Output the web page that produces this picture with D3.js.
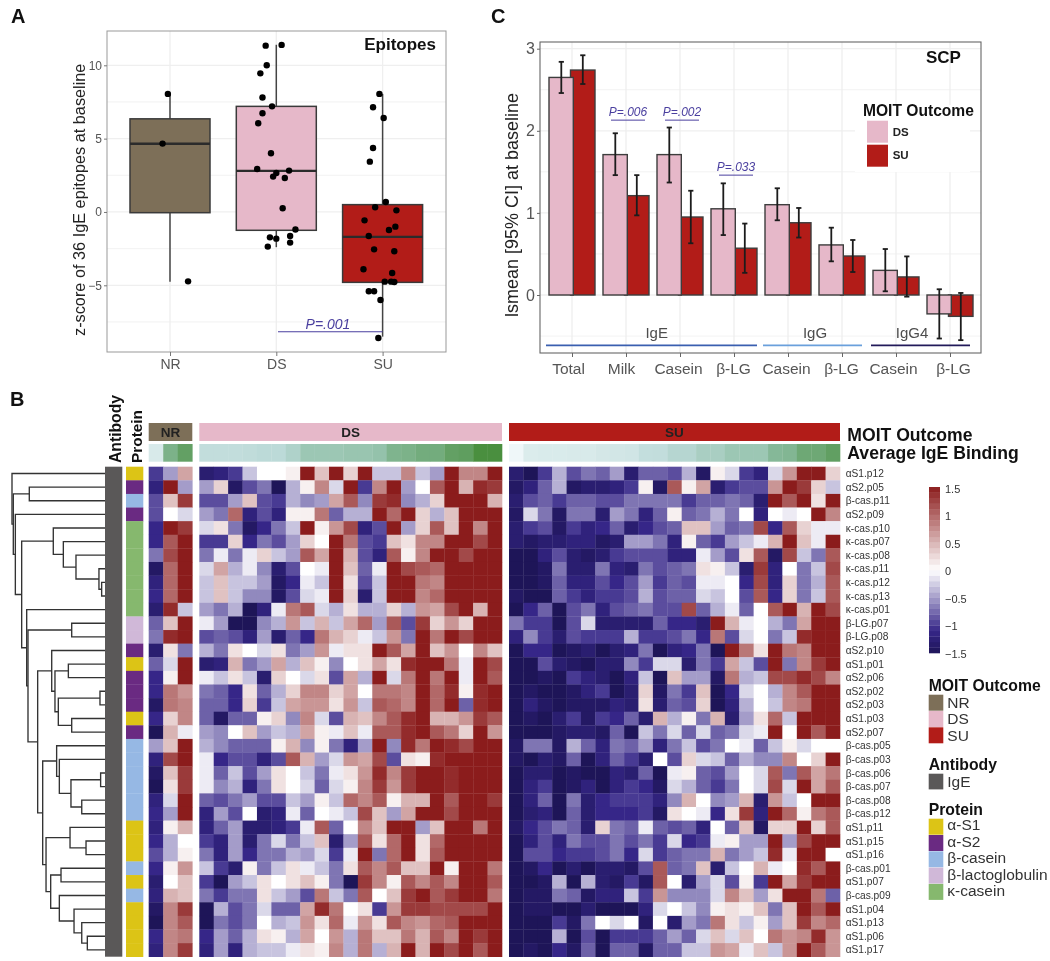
<!DOCTYPE html>
<html><head><meta charset="utf-8">
<script src="https://d3js.org/d3.v7.min.js"></script>
<style>
html,body{margin:0;padding:0;background:#fff}
svg{display:block;filter:blur(.35px)}
text{font-family:"Liberation Sans",Arial,sans-serif}
</style></head><body>
<svg id="chart" width="1050" height="961"></svg>
<script>
// ---------- Panel A ----------
const boxCategories = ["NR","DS","SU"];
const boxQ1 = [-0.05,-1.25,-4.8];
const boxMedian = [4.65,2.8,-1.7];
const boxQ3 = [6.35,7.2,0.5];
const boxLow = [-4.75,-2.4,-8.5];
const boxHigh = [8.05,11.4,8.05];
const nrPoints = [[-.02,8.05],[-.07,4.66],[.17,-4.73]];
const dsPoints = [[-.10,11.34],[.05,11.39],[-.09,10],[-.15,9.45],[-.13,7.8],[-.04,7.2],[-.13,6.73],[-.17,6.05],[-.05,4],[-.18,2.93],[.12,2.82],[0,2.66],[-.03,2.41],[.08,2.32],[.06,.25],[.18,-1.2],[-.06,-1.73],[0,-1.82],[.13,-1.64],[.13,-2.09],[-.08,-2.36]];
const suPoints = [[-.03,8.05],[-.09,7.14],[.01,6.41],[-.09,4.36],[-.12,3.43],[.03,.68],[-.07,.32],[.13,.11],[-.17,-.57],[.12,-1],[.06,-1.23],[-.13,-1.64],[-.08,-2.55],[.11,-2.68],[-.18,-3.91],[.09,-4.16],[.02,-4.75],[.08,-4.75],[.11,-4.77],[-.13,-5.41],[-.08,-5.41],[-.02,-6],[-.04,-8.59]];
const boxTicks = [-5,0,5,10];

// ---------- Panel C ----------
const barCategories = ["Total","Milk","Casein","β-LG","Casein","β-LG","Casein","β-LG"];
const dsMean = [2.65,1.71,1.71,1.05,1.10,.61,.30,-.23];
const dsLow  = [2.46,1.46,1.37,.73,.91,.41,.045,-.53];
const dsHigh = [2.84,1.97,2.04,1.36,1.30,.82,.56,.07];
const suMean = [2.74,1.21,.95,.57,.88,.475,.22,-.26];
const suLow  = [2.57,.97,.63,.27,.70,.28,-.02,-.55];
const suHigh = [2.92,1.46,1.27,.87,1.06,.67,.47,.025];
const barTicks = [0,1,2,3];
const barPValues = [["P=.006",1,2.13],["P=.002",2,2.13],["P=.033",3,1.46]];
const antibodyGroups = ["IgE","IgG","IgG4"];

// ---------- Panel B ----------
const rowLabels = ["αS1.p12","αS2.p05","β-cas.p11","αS2.p09","κ-cas.p10","κ-cas.p07","κ-cas.p08","κ-cas.p11","κ-cas.p12","κ-cas.p13","κ-cas.p01","β-LG.p07","β-LG.p08","αS2.p10","αS1.p01","αS2.p06","αS2.p02","αS2.p03","αS1.p03","αS2.p07","β-cas.p05","β-cas.p03","β-cas.p06","β-cas.p07","β-cas.p08","β-cas.p12","αS1.p11","αS1.p15","αS1.p16","β-cas.p01","αS1.p07","β-cas.p09","αS1.p04","αS1.p13","αS1.p06","αS1.p17"];
const proteinNames = ["α-S1","α-S2","β-casein","β-lactoglobulin","κ-casein"];
const proteinOfRow = [0,1,2,1,4,4,4,4,4,4,4,3,3,1,0,1,1,1,0,1,2,2,2,2,2,2,0,0,0,2,0,2,0,0,0,0];
const bindingNR = [.15,.7,.85];
const bindingDS = [.27,.27,.27,.28,.3,.3,.38,.5,.5,.5,.52,.52,.55,.68,.7,.75,.75,.85,.87,1,1];
const bindingSU = [.02,.13,.14,.14,.15,.15,.17,.18,.19,.26,.27,.34,.34,.42,.42,.5,.5,.5,.64,.66,.78,.78,.86];
// z-scores in tenths, one array per epitope row
const heatNR = [[-10,-5,6],[-12,15,-5],[-9,4,13],[-9,0,-2],[-11,15,13],[-11,11,15],[-7,12,15],[-14,10,15],[-12,10,15],[-11,10,15],[-13,14,-3],[-8,4,15],[-7,14,15],[-13,2,-7],[-8,-2,15],[-11,1,15],[-11,9,7],[-14,9,8],[-11,3,8],[-15,5,-1],[-5,4,15],[-12,12,15],[-14,4,13],[-15,2,13],[-12,-2,15],[-11,-5,15],[-12,1,5],[-11,-4,0],[-9,-4,1],[-11,1,7],[-13,0,4],[-12,5,4],[-14,8,13],[-15,8,11],[-11,8,9],[-12,8,13]];
const heatDS = [
[-13,-12,-10,-3,0,0,1,15,4,15,3,15,-3,-3,8,-3,-5,15,8,8,15],
[-5,3,-14,-9,-7,-15,-4,1,8,-2,15,-10,8,15,-5,0,11,15,5,14,13],
[-9,-9,-5,4,-9,-10,-4,-6,-5,6,11,-6,13,14,-6,-4,3,15,15,15,5],
[-5,-7,10,-12,-9,-12,1,1,9,-8,-4,-4,15,10,15,3,-4,4,15,15,15],
[-2,2,-7,-14,-11,-7,-3,15,1,7,12,-12,-9,15,-5,3,11,4,15,8,15],
[-10,-10,3,-11,-7,-9,-5,3,0,15,9,-9,-10,4,2,8,8,15,15,12,15],
[-7,-1,-7,-1,3,-3,-5,11,6,15,5,-9,-12,11,1,8,15,15,12,15,15],
[-2,6,-4,-1,-6,-13,-9,0,-1,15,4,-8,-1,15,12,11,10,15,15,15,15],
[-3,4,-3,-3,-5,-14,-11,-1,-3,15,2,-9,-3,15,15,9,8,15,15,15,15],
[-3,4,-3,-6,-6,-14,-9,-2,-1,15,3,-13,-3,15,15,8,10,15,15,15,15],
[-5,-7,-4,-15,-12,-1,9,11,-2,-4,2,-4,-4,3,-4,7,6,12,15,5,15],
[-1,-5,-15,-15,-6,-4,7,-3,5,-3,6,10,-5,11,-9,13,3,7,3,15,15],
[-9,-8,-9,-12,-5,-13,-8,-11,9,5,3,-1,-3,7,-7,15,9,15,12,15,15],
[-4,-7,2,0,-2,2,-7,-5,7,-1,2,2,15,11,6,15,4,7,0,8,4],
[-13,-12,5,-7,-5,6,-4,4,1,-6,0,2,6,2,14,15,15,9,-1,15,12],
[-1,-3,2,-3,-13,3,0,-2,2,-9,6,-4,15,-2,9,15,9,15,-1,15,11],
[-7,-8,-11,2,-8,-4,3,8,8,3,6,0,9,9,8,15,10,14,1,14,15],
[-8,-8,-11,3,-10,-3,6,7,7,2,7,-3,11,10,8,15,10,15,-8,14,15],
[-8,-14,-8,-8,1,3,-6,8,-2,-9,5,4,8,11,14,15,5,5,7,13,11],
[-5,-6,0,4,-5,-3,-4,6,1,-1,4,-1,11,11,14,15,11,9,3,15,7],
[-4,-6,-8,-8,-8,1,5,-6,1,-7,-12,-5,15,-6,14,9,15,14,12,15,15],
[-1,-11,-9,-9,-12,-9,11,5,-5,-2,7,6,12,-9,2,1,14,15,15,15,15],
[-1,-8,-3,-9,-5,2,0,-3,-7,-1,2,7,14,8,13,15,15,14,15,15,15],
[-1,-6,-4,-12,-7,2,0,-2,-8,-2,1,8,13,7,13,15,15,14,15,15,15],
[-8,-9,-7,-5,-9,-9,-3,-5,1,-3,10,8,11,1,5,5,15,11,15,15,13],
[-12,-5,-9,0,-13,-12,-1,-8,0,-1,-3,12,4,-5,6,15,15,12,15,15,15],
[-12,-8,-5,-13,-13,-12,-10,-1,11,-8,0,8,4,15,15,-5,4,15,15,9,15],
[-10,-12,-5,-13,-7,-2,-7,-3,4,-13,-5,11,2,10,15,2,10,15,15,15,15],
[-7,-12,-5,-11,-7,-7,-4,-5,-2,-10,-1,15,-7,10,15,2,11,15,15,15,15],
[-3,-10,-13,1,-7,-3,2,-1,-3,-7,2,11,8,11,4,4,15,1,15,15,9],
[-10,-15,-5,-3,2,0,2,4,1,-7,-15,13,8,1,11,8,11,8,15,15,11],
[-7,-10,-7,-7,2,-3,-5,-9,9,-3,-7,11,0,4,13,15,11,13,15,15,9],
[-15,-4,-9,-7,-2,-8,-8,6,14,9,0,2,-10,7,13,13,12,12,12,12,15],
[-15,-7,-9,-7,0,-4,-3,7,2,10,-1,7,2,11,8,7,10,11,15,15,15],
[-11,-5,-8,-4,2,1,-4,6,0,7,-4,9,4,4,9,5,11,8,15,13,15],
[-12,-5,-12,-4,-3,-3,-1,2,1,8,-4,9,-4,5,15,5,15,12,15,11,15]];
const heatSU = [
[-13,-15,-10,-4,-9,-7,-8,-5,-13,-8,-8,-9,-4,-14,1,-2,-10,-12,-2,7,15,15,3],
[-14,-12,-8,-4,-14,-13,-13,-12,-10,1,-14,11,1,6,-13,-10,-9,-9,7,15,13,3,-3],
[-13,-9,-8,-10,-8,-8,-9,-9,-7,-7,-7,-7,-10,-8,-8,-7,-8,-13,15,11,15,2,15],
[-14,-2,-7,-14,-7,-7,-13,-5,-7,-12,-8,1,-8,-7,-4,-7,0,-12,0,-1,0,15,8],
[-13,-10,-9,-14,-10,-12,-11,-8,-13,-11,-9,-8,4,4,-5,-8,-7,12,-11,11,3,-1,-1],
[-13,-14,-13,-13,-12,-12,-14,-13,-5,-5,-7,-12,1,-8,-10,-5,-3,-1,5,15,4,-1,15],
[-15,-15,-12,-9,-13,-14,-13,-10,-9,-9,-9,-12,-12,-1,-5,-9,2,11,-14,12,-3,-7,11],
[-15,-15,-14,-7,-13,-13,-7,-12,-13,-7,-9,-8,-7,2,1,-3,-13,13,-12,0,-7,-3,12],
[-15,-15,-14,-8,-12,-12,-9,-11,-9,-5,-10,-8,-9,-1,-1,0,-11,12,-12,3,-7,-4,11],
[-14,-15,-15,-8,-10,-12,-10,-10,-9,-4,-9,-8,-8,-2,-3,0,-9,11,-11,3,-7,-3,11],
[-15,-11,-8,-15,-9,-7,-12,-9,-8,-7,-9,-9,12,-8,-4,-1,-8,0,11,15,5,15,12],
[-7,-10,-10,-15,-9,-2,-13,-13,-13,-13,-8,-11,-11,-13,15,5,-1,0,-4,-7,6,15,15],
[-12,-6,-10,-13,-9,-10,-10,-10,-4,-10,-10,-9,-7,-11,9,-9,-2,0,-7,-3,14,15,15],
[-15,-11,-11,-15,-14,-13,-15,-13,-12,-7,-15,-12,-11,-7,-15,15,9,2,15,9,8,15,15],
[-15,-15,-9,-13,-14,-15,-13,-13,-6,-10,-2,-2,-13,-7,-10,6,-3,-9,15,-7,8,13,15],
[-15,-15,-14,-15,-10,-12,-13,-15,-12,-3,-15,4,-5,-5,-14,9,-4,-3,12,12,14,12,8],
[-15,-14,-15,-15,-14,-12,-10,-15,-13,3,-14,-7,-10,4,-15,-11,-2,0,-4,8,11,15,15],
[-15,-12,-14,-15,-14,-14,-14,-12,-13,2,-13,-8,-9,3,-15,-12,-4,0,-3,8,9,15,15],
[-15,-14,-15,-13,-10,-14,-10,-11,-8,-13,5,-4,1,-7,5,-13,-5,2,10,-3,15,15,15],
[-15,-15,-15,-14,-13,-13,-14,-8,-15,-3,-7,-2,-8,-2,-8,-7,-2,-1,15,0,15,11,15],
[-14,-7,-7,-14,-4,-8,-12,-7,-8,-5,-12,-7,-3,-9,-7,0,-1,-8,-3,1,-2,0,0],
[-14,-15,-13,-14,-8,-15,-12,-8,-10,-13,0,-9,3,-2,-3,-8,-4,-6,-6,8,0,3,15],
[-15,-13,-13,-15,-14,-15,-15,-12,-13,-8,-15,-1,1,-8,-9,-5,0,-2,11,-7,11,6,9],
[-15,-12,-10,-15,-14,-12,-15,-12,-10,-11,-14,-2,-4,-8,-10,-7,0,-2,12,-2,15,6,11],
[-15,-12,-8,-15,-7,-13,-11,-10,-10,-10,-12,-6,5,0,-6,-5,5,-13,7,-3,0,15,15],
[-15,-13,-12,-15,-8,-13,-11,-11,-11,-10,-14,2,0,-1,-11,2,13,-12,15,10,1,9,11],
[-14,-11,-9,-7,-8,-13,3,-7,-8,-1,-8,-9,-8,-12,0,-8,4,-14,3,3,15,3,11],
[-15,-12,-9,-12,-7,-9,-9,-7,-9,-7,-10,-2,-11,-10,-1,1,-5,-5,15,-5,12,15,15],
[-15,-9,-9,-11,-10,-10,-9,-7,-11,-2,-10,-8,-7,-7,5,-7,-5,-3,14,-1,15,15,0],
[-15,-14,-11,-15,-13,-15,-13,-13,-14,-9,11,-8,-7,4,-13,-3,0,5,-1,0,14,11,15],
[-15,-15,-14,-4,-15,-4,-13,-14,-10,-14,11,0,-13,-5,-2,-9,1,-10,15,6,13,15,15],
[-15,-14,-14,-7,-8,-14,-12,-12,-3,-10,7,-6,-6,-6,-2,8,4,-5,2,15,15,9,-8],
[-15,-14,-14,-15,-15,-13,-15,-15,-15,-12,-2,0,-3,-6,1,2,1,4,-7,4,15,11,15],
[-15,-15,-15,-10,-14,-7,0,-2,0,-14,0,-13,-5,-7,9,2,-3,1,-5,4,13,8,10],
[-15,-15,-15,-4,-15,-9,-15,-10,-10,-10,-8,-5,-8,-2,4,-2,4,0,9,7,8,14,7],
[-15,-14,-15,-11,-14,-8,-15,-8,-8,-14,-8,-8,-3,-3,7,6,-1,4,-3,7,15,11,7]];
// dendrogram: [mergeHeight, child, child]; integers inside are row indices
const dendrogram = [100,0,[98.6,[81.4,1,2],[96.4,3,[89.6,
  [55.6,4,[44.8,5,[31.2,6,[6.5,7,[3.6,8,9]]]]],
  [84.2,10,[82.8,[35.8,11,12],[72.4,
    [57.3,13,[53.8,[39.4,14,15],[50.2,[5.4,16,17],[35.8,18,19]]]],
    [67,
      [52,20,[49.1,21,[36.6,[4.7,22,23],[25,24,25]]]],
      [63.4,[37.6,26,[20.4,27,28]],[58.4,[47.3,29,30],[49.1,31,[33.3,32,[25,33,[19,34,35]]]]]]
    ]
  ]]]
]]]];
const colorbarTicks = [1.5,1,0.5,0,-0.5,-1,-1.5];
const outcomeNames = ["NR","DS","SU"];

// ---------- styling ----------
const outcomeColor = {NR:"#7d6f58",DS:"#e6b8c9",SU:"#b21c18"};
const proteinColors = ["#dcc416","#6a2a82","#96b8e4","#d0b8d8","#86b86e"];
const blue = "#4a3f9f", tickGrey = "#555";
const svg = d3.select("#chart");
const T = (g,x,y,s,o={})=>{
  const t=g.append("text").attr("x",x).attr("y",y).text(s)
    .attr("font-size",o.size||12).attr("fill",o.fill||"#111");
  if(o.bold)t.attr("font-weight","bold");
  if(o.italic)t.attr("font-style","italic");
  if(o.anchor)t.attr("text-anchor",o.anchor);
  if(o.rot)t.attr("transform",`rotate(-90 ${x} ${y})`);
  return t;
};
T(svg,11,23,"A",{size:20,bold:true});
T(svg,10,406,"B",{size:20,bold:true});
T(svg,491,23,"C",{size:20,bold:true});

// ========== Panel A ==========
(function(){
  const L=107,R=446,Tp=31,B=352;
  const g=svg.append("g");
  const y=d3.scaleLinear().domain([-5,10]).range([285.3,65.3]);
  const x=d3.scalePoint().domain(boxCategories).range([170,382.6]);
  const unit=x.step();
  g.append("g").selectAll("line").data(d3.range(-7.5,11,2.5)).join("line")
    .attr("x1",L).attr("x2",R).attr("y1",d=>y(d)).attr("y2",d=>y(d))
    .attr("stroke","#efefef").attr("stroke-width",d=>d%5===0?1.3:.8);
  g.append("g").selectAll("line").data(boxCategories).join("line")
    .attr("x1",d=>x(d)).attr("x2",d=>x(d)).attr("y1",Tp).attr("y2",B)
    .attr("stroke","#efefef").attr("stroke-width",1.3);
  const hw=40;
  boxCategories.forEach((c,i)=>{
    g.append("line").attr("x1",x(c)).attr("x2",x(c)).attr("y1",y(boxLow[i])).attr("y2",y(boxHigh[i]))
      .attr("stroke","#444").attr("stroke-width",1.5);
    g.append("rect").attr("x",x(c)-hw).attr("width",hw*2).attr("y",y(boxQ3[i])).attr("height",y(boxQ1[i])-y(boxQ3[i]))
      .attr("fill",outcomeColor[c]).attr("stroke","#3a3a3a").attr("stroke-width",1.5);
    g.append("line").attr("x1",x(c)-hw).attr("x2",x(c)+hw).attr("y1",y(boxMedian[i])).attr("y2",y(boxMedian[i]))
      .attr("stroke","#2b2b2b").attr("stroke-width",2.4);
  });
  // significance bar
  g.append("line").attr("x1",278).attr("x2",x("SU")).attr("y1",y(-8.17)).attr("y2",y(-8.17)).attr("stroke",blue).attr("stroke-width",1.1);
  T(g,328,329,"P=.001",{size:14,italic:true,fill:blue,anchor:"middle"});
  [nrPoints,dsPoints,suPoints].forEach((pts,i)=>{
    g.append("g").selectAll("circle").data(pts).join("circle")
      .attr("cx",d=>x(boxCategories[i])+d[0]*unit).attr("cy",d=>y(d[1])).attr("r",3.2).attr("fill","#000");
  });
  g.append("rect").attr("x",L).attr("y",Tp).attr("width",R-L).attr("height",B-Tp).attr("fill","none").attr("stroke","#999").attr("stroke-width",1);
  const ay=g.append("g").attr("transform",`translate(${L},0)`).call(d3.axisLeft(y).tickValues(boxTicks).tickSize(3).tickPadding(2));
  const ax=g.append("g").attr("transform",`translate(0,${B})`).call(d3.axisBottom(x).tickSize(4).tickPadding(3));
  [ay,ax].forEach(a=>{a.select(".domain").remove();a.selectAll("line").attr("stroke","#777");a.selectAll("text").attr("fill",tickGrey);});
  ay.selectAll("text").attr("font-size",12).attr("font-family",null);
  ax.selectAll("text").attr("font-size",14).attr("font-family",null);
  T(g,84.5,336,"z-score of 36 IgE epitopes at baseline",{size:16.3,rot:true,fill:"#222"});
  T(g,436,50,"Epitopes",{size:17,bold:true,anchor:"end"});
})();

// ========== Panel C ==========
(function(){
  const L=540,R=981,Tp=42,B=353;
  const g=svg.append("g");
  const y=d3.scaleLinear().domain([0,3]).range([295,48.7]);
  const idx=barCategories.map((_,i)=>i);
  const x=d3.scalePoint().domain(idx).range([572,950]);
  g.append("g").selectAll("line").data(d3.range(-.5,3.01,.5)).join("line")
    .attr("x1",L).attr("x2",R).attr("y1",d=>y(d)).attr("y2",d=>y(d))
    .attr("stroke","#efefef").attr("stroke-width",d=>d%1===0?1.3:.8);
  g.append("g").selectAll("line").data(idx).join("line")
    .attr("x1",d=>x(d)).attr("x2",d=>x(d)).attr("y1",Tp).attr("y2",B)
    .attr("stroke","#efefef").attr("stroke-width",1.3);
  g.append("rect").attr("x",855).attr("y",105).attr("width",115).attr("height",67).attr("fill","#fff");
  const bar=(vals,x0,x1,col)=>g.append("g").selectAll("rect").data(idx).join("rect")
    .attr("x",i=>x(i)+x0).attr("width",x1-x0)
    .attr("y",i=>Math.min(y(vals[i]),y(0))).attr("height",i=>Math.abs(y(vals[i])-y(0)))
    .attr("fill",col).attr("stroke","#3d3d3d").attr("stroke-width",1.4);
  bar(suMean,-1.5,23,outcomeColor.SU);
  bar(dsMean,-23,1.3,outcomeColor.DS);
  const err=(lo,hi,off)=>{
    const e=g.append("g").attr("stroke","#1c1c1c").attr("stroke-width",1.8);
    idx.forEach(i=>{
      const cx=x(i)+off;
      e.append("line").attr("x1",cx).attr("x2",cx).attr("y1",y(lo[i])).attr("y2",y(hi[i]));
      [lo[i],hi[i]].forEach(v=>e.append("line").attr("x1",cx-2.6).attr("x2",cx+2.6).attr("y1",y(v)).attr("y2",y(v)));
    });
  };
  err(dsLow,dsHigh,-10.7);
  err(suLow,suHigh,10.8);
  // p-values
  barPValues.forEach(([lab,i,v])=>{
    const cx=x(i)+2;
    g.append("line").attr("x1",cx-17).attr("x2",cx+17).attr("y1",y(v)).attr("y2",y(v)).attr("stroke",blue).attr("stroke-width",1);
    T(g,cx,y(v)-4,lab,{size:12,italic:true,fill:blue,anchor:"middle"});
  });
  // antibody groups
  const grp=[[546,757,"#3a5fb0",656.7],[763,862,"#6aa0dc",815],[871,970,"#221a5a",912]];
  antibodyGroups.forEach((n,i)=>{
    const [a,b,c,m]=grp[i];
    g.append("line").attr("x1",a).attr("x2",b).attr("y1",345.3).attr("y2",345.3).attr("stroke",c).attr("stroke-width",1.7);
    T(g,m,338,n,{size:15,fill:"#4d4d4d",anchor:"middle"});
  });
  g.append("rect").attr("x",L).attr("y",Tp).attr("width",R-L).attr("height",B-Tp).attr("fill","none").attr("stroke","#666").attr("stroke-width",1.1);
  const ay=g.append("g").attr("transform",`translate(${L},0)`).call(d3.axisLeft(y).tickValues(barTicks).tickFormat(d3.format("d")).tickSize(3).tickPadding(2));
  const ax=g.append("g").attr("transform",`translate(0,${B})`).call(d3.axisBottom(x).tickFormat(i=>barCategories[i]).tickSize(4).tickPadding(6));
  [ay,ax].forEach(a=>{a.select(".domain").remove();a.selectAll("line").attr("stroke","#666");a.selectAll("text").attr("fill",tickGrey).attr("font-family",null);});
  ay.selectAll("text").attr("font-size",16);
  const nudge=[-4,-5,-2,-1,-2,-1,-3,3];
  ax.selectAll("text").attr("font-size",15.5).attr("dx",(d,i)=>nudge[i]);
  T(g,518,317,"lsmean [95% CI] at baseline",{size:18,rot:true,fill:"#222"});
  T(g,926,63,"SCP",{size:17,bold:true});
  T(g,863,116,"MOIT Outcome",{size:15.6,bold:true});
  ["DS","SU"].forEach((n,i)=>{
    g.append("rect").attr("x",867).attr("y",120.7+24*i).attr("width",21).attr("height",22).attr("fill",outcomeColor[n]);
    T(g,892.7,136+23.3*i,n,{size:11.5,bold:true,fill:"#222"});
  });
})();

// ========== Panel B ==========
(function(){
  const g=svg.append("g");
  const allRows=d3.range(36);
  const yRow=d3.scaleBand().domain(allRows).range([466.7,956.7]);
  const rh=yRow.bandwidth();
  const heatColor=d3.scaleLinear().domain([-1.5,-1.1,0,1.5]).range(["#1e1558","#362688","#ffffff","#8b1c1c"]).clamp(true);
  const binColor=d3.scaleLinear().domain([0,.3,.6,1]).range(["#f3f9fb","#bcdad8","#8cbda2","#4a8f3f"]);
  const blocks=[
    {name:"NR",x0:148.7,x1:192.3,data:heatNR,bind:bindingNR},
    {name:"DS",x0:199.3,x1:502,data:heatDS,bind:bindingDS},
    {name:"SU",x0:509,x1:840,data:heatSU,bind:bindingSU}];
  blocks.forEach(b=>{
    const xc=d3.scaleBand().domain(d3.range(b.bind.length)).range([b.x0,b.x1]);
    const w=xc.bandwidth();
    b.data.forEach((row,r)=>{
      g.append("g").selectAll("rect").data(row).join("rect")
        .attr("x",(d,c)=>xc(c)).attr("y",yRow(r)).attr("width",w+.3).attr("height",rh+.3)
        .attr("fill",d=>heatColor(d/10));
    });
    g.append("rect").attr("x",b.x0).attr("y",423).attr("width",b.x1-b.x0).attr("height",18).attr("fill",outcomeColor[b.name]);
    T(g,(b.x0+b.x1)/2,437.3,b.name,{size:13.5,bold:true,fill:"#222",anchor:"middle"});
    g.append("g").selectAll("rect").data(b.bind).join("rect")
      .attr("x",(d,c)=>xc(c)).attr("y",444).attr("width",w+.3).attr("height",17.7).attr("fill",d=>binColor(d));
  });
  // row annotation
  g.append("rect").attr("x",105).attr("y",466.7).attr("width",17.3).attr("height",490).attr("fill","#5a5858");
  g.append("g").selectAll("rect").data(proteinOfRow).join("rect")
    .attr("x",126).attr("y",(d,i)=>yRow(i)).attr("width",17.3).attr("height",rh+.3).attr("fill",d=>proteinColors[d]);
  T(g,120.6,463,"Antibody",{size:15.7,bold:true,rot:true});
  T(g,141.7,463,"Protein",{size:15.4,bold:true,rot:true});
  // row labels
  g.append("g").selectAll("text").data(rowLabels).join("text")
    .attr("x",845.7).attr("y",(d,i)=>yRow(i)+rh/2+3.6).text(d=>d).attr("font-size",10.2).attr("fill","#333");
  T(g,847.3,440.7,"MOIT Outcome",{size:17.6,bold:true});
  T(g,847.3,458.7,"Average IgE Binding",{size:17.6,bold:true});
  // dendrogram
  const xH=d3.scaleLinear().domain([0,100]).range([105,12]);
  const den=g.append("g").attr("fill","none").attr("stroke","#333").attr("stroke-width",1.35);
  (function walk(n){
    if(typeof n==="number")return {x:xH(0),y:yRow(n)+rh/2};
    const a=walk(n[1]),b=walk(n[2]),xn=xH(n[0]);
    den.append("path").attr("d",d3.line()([[a.x,a.y],[xn,a.y],[xn,b.y],[b.x,b.y]]));
    return {x:xn,y:(a.y+b.y)/2};
  })(dendrogram);
  // colour bar
  const yBar=d3.scaleLinear().domain([-1.5,1.5]).range([653,487]);
  const cb=g.append("g");
  const n=30,step=3/n;
  d3.range(n).forEach(i=>{
    const lo=-1.5+i*step,hi=lo+step,mid=(lo+hi)/2;
    cb.append("rect").attr("x",929).attr("width",11).attr("y",yBar(hi)).attr("height",yBar(lo)-yBar(hi)+.3)
      .attr("fill",heatColor(mid));
  });
  const aC=g.append("g").attr("transform","translate(940,0)")
    .call(d3.axisRight(d3.scaleLinear().domain([-1.5,1.5]).range([653.5,488.5])).tickValues(colorbarTicks).tickSize(0).tickPadding(5).tickFormat(d=>String(d).replace("-","\u2212")));
  aC.select(".domain").remove();
  aC.selectAll("text").attr("font-size",11).attr("fill","#333").attr("font-family",null);
  // legends
  T(g,928.7,690.7,"MOIT Outcome",{size:15.75,bold:true});
  outcomeNames.forEach((c,i)=>{
    g.append("rect").attr("x",928.7).attr("y",694.7+16.3*i).attr("width",14.6).attr("height",16).attr("fill",outcomeColor[c]);
    T(g,947.3,707.8+16.6*i,c,{size:15.5,fill:"#333"});
  });
  T(g,928.7,770,"Antibody",{size:15.75,bold:true});
  g.append("rect").attr("x",928.7).attr("y",773.7).attr("width",14.6).attr("height",15.7).attr("fill","#5a5858");
  T(g,947.3,786.7,"IgE",{size:15.5,fill:"#333"});
  T(g,928.7,815,"Protein",{size:15.75,bold:true});
  proteinNames.forEach((c,i)=>{
    g.append("rect").attr("x",928.7).attr("y",818.7+16.3*i).attr("width",14.6).attr("height",16).attr("fill",proteinColors[i]);
    T(g,947.3,830+16.5*i,c,{size:15.5,fill:"#333"});
  });
})();
</script>
</body></html>
